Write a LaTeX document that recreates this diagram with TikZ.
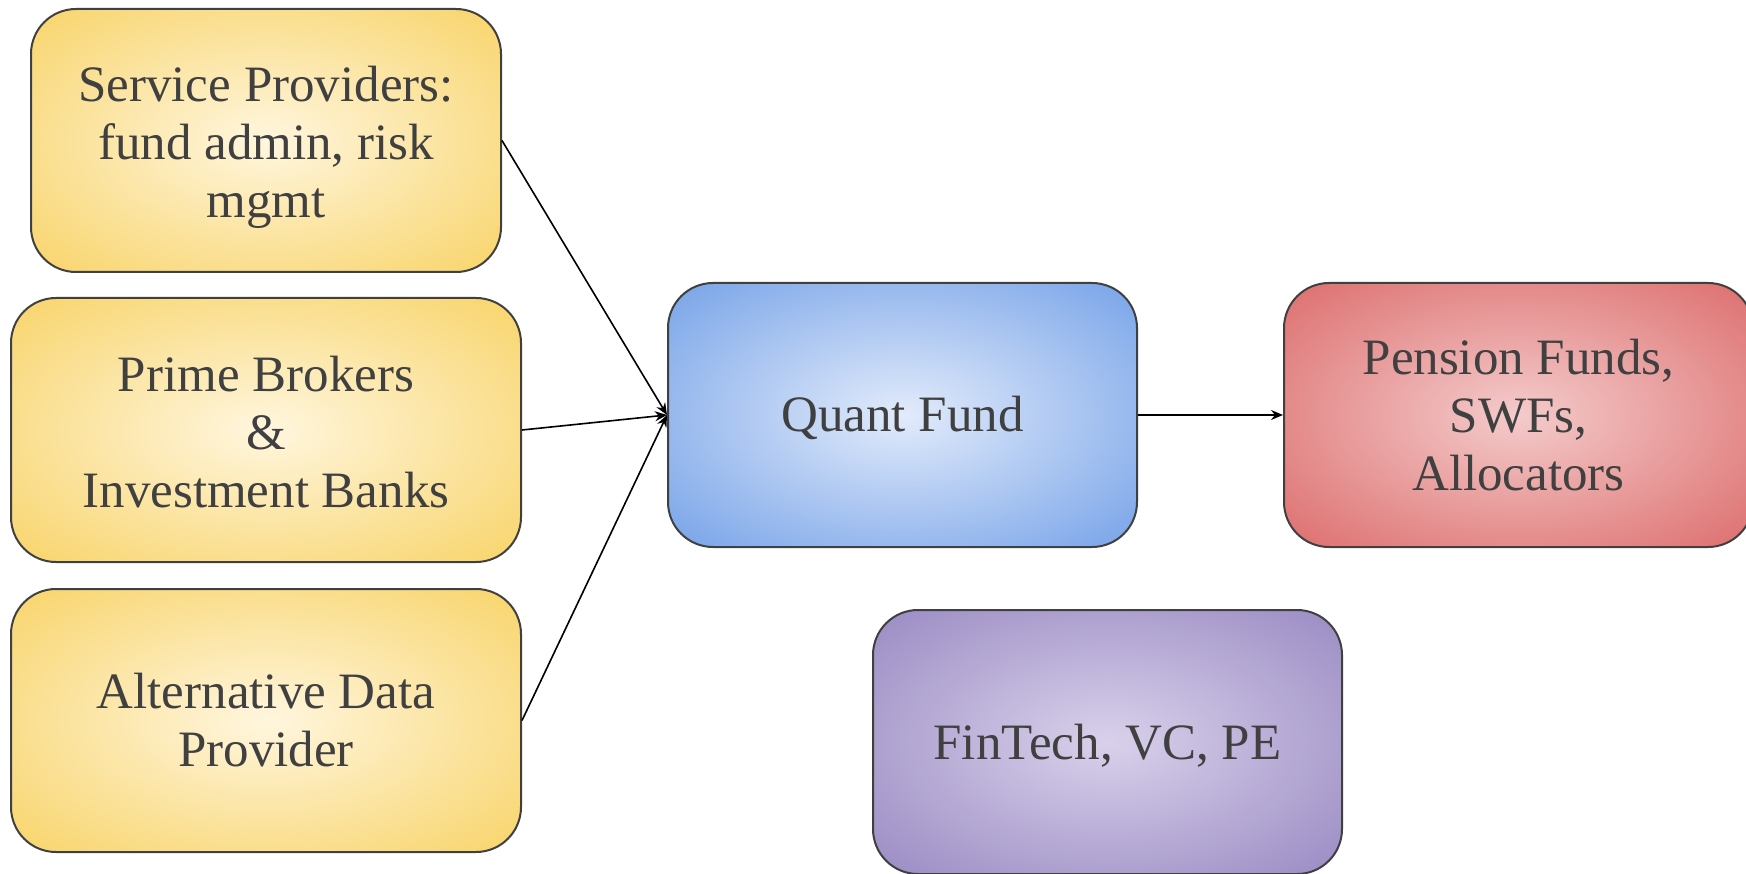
\documentclass[tikz,border=0pt]{standalone}
\usepackage{fontspec}
\setmainfont{Liberation Serif}
\usetikzlibrary{arrows.meta}
\definecolor{boxline}{HTML}{404040}
\definecolor{txt}{HTML}{404040}
\definecolor{yellowout}{HTML}{F8D46A}
\definecolor{yellowin}{HTML}{FFF6DE}
\definecolor{blueout}{HTML}{77A3E8}
\definecolor{bluein}{HTML}{E2EBFB}
\definecolor{redout}{HTML}{DD6E6E}
\definecolor{redin}{HTML}{F4CBCB}
\definecolor{purpleout}{HTML}{9A8BC3}
\definecolor{purplein}{HTML}{D9D1EB}
% radial fills that reach the outer colour only in the corners
\pgfdeclareradialshading{yellowglow}{\pgfpoint{0bp}{0bp}}{%
  color(0bp)=(yellowin); color(35.4bp)=(yellowout); color(50bp)=(yellowout)}
\pgfdeclareradialshading{blueglow}{\pgfpoint{0bp}{0bp}}{%
  color(0bp)=(bluein); color(35.4bp)=(blueout); color(50bp)=(blueout)}
\pgfdeclareradialshading{redglow}{\pgfpoint{0bp}{0bp}}{%
  color(0bp)=(redin); color(35.4bp)=(redout); color(50bp)=(redout)}
\pgfdeclareradialshading{purpleglow}{\pgfpoint{0bp}{0bp}}{%
  color(0bp)=(purplein); color(35.4bp)=(purpleout); color(50bp)=(purpleout)}
% set a centred block a little lower without changing its size
\newcommand{\droptext}[2]{\raisebox{-#1}[\height][\depth]{%
  \parbox{420pt}{\centering #2}}}
\tikzset{
  x=1pt, y=1pt,
  card/.style={draw=boxline, line width=2pt, rounded corners=45pt,
    align=center, text=txt, inner sep=0pt,
    font=\fontsize{51}{58}\selectfont},
  yellowcard/.style={card, shading=yellowglow},
  bluecard/.style={card, shading=blueglow},
  redcard/.style={card, shading=redglow},
  purplecard/.style={card, shading=purpleglow},
  link/.style={draw=black, line width=1.6pt,
    -{Stealth[length=12pt, width=10pt, inset=4pt]}}
}
\begin{document}
\begin{tikzpicture}
\useasboundingbox (0,0) rectangle (1746,-874);
\node[yellowcard, minimum width=470pt, minimum height=263pt] (svc) at (266,-140.5)
  {\droptext{7pt}{Service Providers:\\fund admin, risk\\mgmt}};
\node[yellowcard, minimum width=510pt, minimum height=264pt] (prime) at (266,-430)
  {\droptext{2pt}{Prime Brokers\\\&\\Investment Banks}};
\node[yellowcard, minimum width=510pt, minimum height=263pt] (alt) at (266,-720.5)
  {Alternative Data\\Provider};
\node[bluecard, minimum width=469pt, minimum height=264pt] (quant) at (902.5,-415)
  {\droptext{3pt}{Quant Fund}};
\node[redcard, minimum width=469pt, minimum height=264pt] (alloc) at (1518.5,-415)
  {Pension Funds,\\SWFs,\\Allocators};
\node[purplecard, minimum width=469pt, minimum height=264pt] (fintech) at (1107.5,-742)
  {\droptext{4pt}{FinTech, VC, PE}};
\draw[link] (svc.east) -- (quant.west);
\draw[link] (prime.east) -- (quant.west);
\draw[link] (alt.east) -- (quant.west);
\draw[link] (quant.east) -- (alloc.west);
\end{tikzpicture}
\end{document}
